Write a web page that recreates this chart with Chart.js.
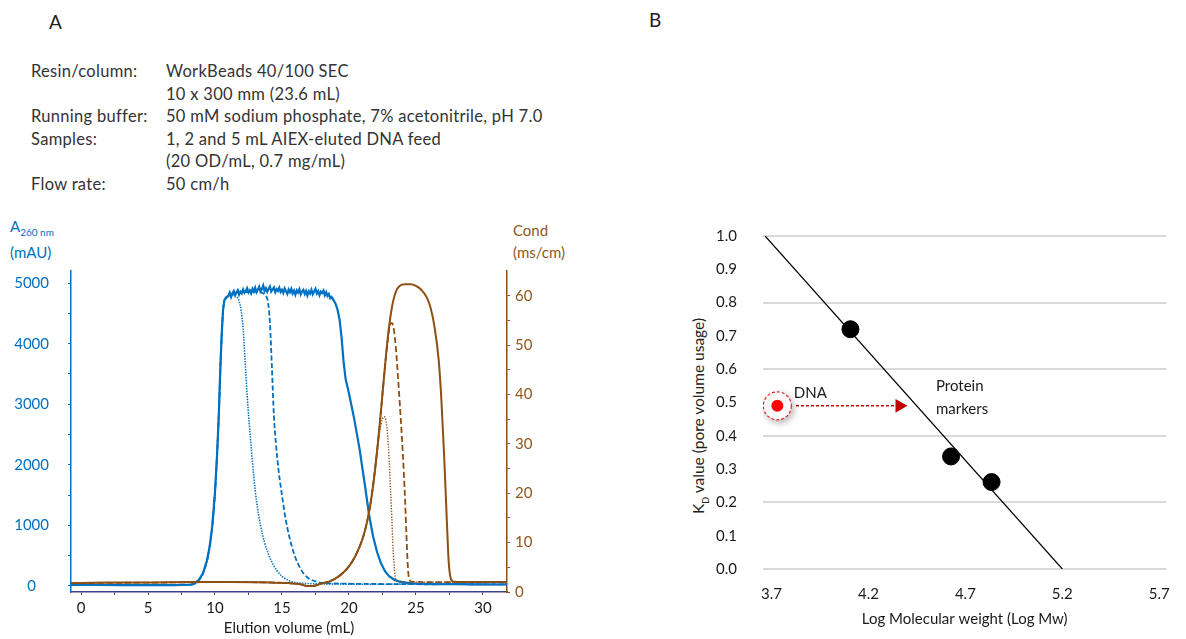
<!DOCTYPE html>
<html>
<head>
<meta charset="utf-8">
<script src="https://cdn.jsdelivr.net/npm/chart.js@4.4.1/dist/chart.umd.min.js"></script>
<style>
  body { margin: 0; background: #fff; font-family: Lato, sans-serif; color: #333; }
  #page { position: relative; width: 1186px; height: 639px; overflow: hidden; }
  .t { position: absolute; white-space: nowrap; }
  .panel { font-size: 19px; color: #222; }
  .info { left: 31px; top: 60px; font-size: 16.5px; letter-spacing: 0.3px; line-height: 22.6px; }
  .info span { display: inline-block; width: 135px; }
  .info div { height: 22.6px; }
  .blue { color: #0070C0; font-size: 15px; }
  .brown { color: #94561C; font-size: 15px; }
  canvas { position: absolute; }
</style>
</head>
<body>
<div id="page">
  <div class="t panel" style="left:49px;top:10px">A</div>
  <div class="t panel" style="left:649px;top:8px">B</div>

  <div class="t info">
    <div><span>Resin/column:</span>WorkBeads 40/100 SEC</div>
    <div><span></span>10 x 300 mm (23.6 mL)</div>
    <div><span>Running buffer:</span>50 mM sodium phosphate, 7% acetonitrile, pH 7.0</div>
    <div><span>Samples:</span>1, 2 and 5 mL AIEX-eluted DNA feed</div>
    <div><span></span>(20 OD/mL, 0.7 mg/mL)</div>
    <div><span>Flow rate:</span>50 cm/h</div>
  </div>

  <div class="t blue" style="left:10px;top:217px">A<sub style="font-size:10px">260 nm</sub></div>
  <div class="t blue" style="left:10px;top:243px">(mAU)</div>
  <div class="t brown" style="left:513px;top:221px">Cond</div>
  <div class="t brown" style="left:513px;top:243px">(ms/cm)</div>

  <div class="t" style="left:700px;top:416px;font-size:15.5px;color:#222;transform:translate(-50%,-50%) rotate(-90deg)">K<sub style="font-size:9px">D</sub> value (pore volume usage)</div>

  <canvas id="cA" width="600" height="439" style="left:0;top:200px"></canvas>
  <canvas id="cB" width="546" height="429" style="left:640px;top:210px"></canvas>
</div>

<script>
'use strict';
// ---------- panel A: SEC chromatogram ----------
const volTicks = [0, 2.5, 5, 7.5, 10, 12.5, 15, 17.5, 20, 22.5, 25, 27.5, 30];
const absTicks = [0, 500, 1000, 1500, 2000, 2500, 3000, 3500, 4000, 4500, 5000];
const condTicks = [0, 5, 10, 15, 20, 25, 30, 35, 40, 45, 50, 55, 60];

// A260, 5 mL sample (solid)
const abs5Vol = [-0.75, 1, 3, 5, 7, 8.2, 8.5, 8.8, 9.1, 9.4, 9.6, 9.8, 10.0, 10.15, 10.28, 10.4, 10.5, 10.6, 10.7, 10.85,
  11.0, 11.1, 11.2, 11.3, 11.4, 11.5, 11.6, 11.7, 11.8, 11.9, 12.0, 12.1, 12.2, 12.3, 12.4, 12.5, 12.6, 12.7, 12.8, 12.9,
  13.0, 13.1, 13.2, 13.3, 13.4, 13.5, 13.6, 13.7, 13.8, 13.9, 14.0, 14.1, 14.2, 14.3, 14.4, 14.5, 14.6, 14.7, 14.8, 14.9,
  15.0, 15.1, 15.2, 15.3, 15.4, 15.5, 15.6, 15.7, 15.8, 15.9, 16.0, 16.1, 16.2, 16.3, 16.4, 16.5, 16.6, 16.7, 16.8, 16.9,
  17.0, 17.1, 17.2, 17.3, 17.4, 17.5, 17.6, 17.7, 17.8, 17.9, 18.0, 18.1, 18.2, 18.3, 18.4, 18.5, 18.6, 18.7,
  18.85, 19.0, 19.15, 19.3, 19.45, 19.6, 19.75, 20.0, 20.4, 20.8, 21.2, 21.5, 21.8, 22.1, 22.4, 22.7, 23.0, 23.4, 23.8,
  24.3, 25, 26, 27, 28, 29, 30, 31, 31.8];
const abs5 = [16, 18, 15, 14, 15, 22, 45, 100, 210, 420, 650, 1000, 1550, 2150, 2800, 3600, 4150, 4550, 4720, 4770,
  4790, 4845, 4770, 4830, 4870, 4800, 4850, 4885, 4810, 4860,
  4830, 4895, 4840, 4870, 4915, 4845, 4880, 4830, 4905, 4860,
  4925, 4850, 4890, 4940, 4865, 4900, 4960, 4870, 4915, 4855,
  4905, 4945, 4860, 4895, 4930, 4850, 4900, 4870, 4925, 4855,
  4890, 4840, 4910, 4865, 4820, 4895, 4850, 4905, 4830, 4875,
  4810, 4880, 4845, 4900, 4815, 4860, 4890, 4820, 4870, 4795,
  4865, 4830, 4890, 4815, 4860, 4905, 4830, 4870, 4800, 4860,
  4835, 4875, 4800, 4850, 4790, 4820, 4750, 4770,
  4720, 4660, 4560, 4400, 4100, 3700, 3420, 3180, 2750, 2250, 1650, 1180, 820, 560, 370, 240, 160, 100, 70,
  50, 38, 32, 28, 30, 26, 28, 24, 26];

// A260, 2 mL sample (dashed)
const abs2Vol = [-0.75, 3, 7, 8.2, 8.5, 8.8, 9.1, 9.4, 9.6, 9.8, 10.0, 10.15, 10.28, 10.4, 10.5, 10.6, 10.7, 10.85,
  11.0, 11.5, 12.0, 12.5, 13.0, 13.5, 13.8, 13.95, 14.1, 14.25, 14.4, 14.55, 14.75, 15.0, 15.2, 15.4, 15.7, 16.0,
  16.3, 16.6, 16.9, 17.2, 17.6, 18.0, 19, 20.5, 22, 24, 26, 28, 30, 31.8];
const abs2 = [14, 15, 14, 20, 42, 95, 205, 410, 640, 990, 1540, 2140, 2790, 3590, 4140, 4540, 4710, 4760,
  4790, 4830, 4850, 4850, 4860, 4840, 4790, 4700, 4350, 3600, 2800, 2350, 1900, 1500, 1200, 960, 680, 470,
  320, 210, 140, 100, 70, 50, 40, 35, 32, 30, 28, 30, 26, 27];

// A260, 1 mL sample (dotted)
const abs1Vol = [-0.75, 3, 7, 8.2, 8.5, 8.8, 9.1, 9.4, 9.6, 9.8, 10.0, 10.15, 10.28, 10.4, 10.5, 10.6, 10.7, 10.85,
  11.0, 11.3, 11.6, 11.8, 11.95, 12.1, 12.25, 12.4, 12.55, 12.7, 12.9, 13.1, 13.4, 13.7, 14.0, 14.3, 14.6, 15.0,
  15.5, 16.0, 17, 18, 20, 22, 24, 26, 28, 30, 31.8];
const abs1 = [14, 15, 14, 20, 42, 95, 205, 410, 640, 990, 1540, 2140, 2790, 3590, 4140, 4540, 4700, 4750,
  4780, 4800, 4780, 4700, 4550, 4250, 3700, 3150, 2700, 2300, 1800, 1400, 1000, 720, 520, 370, 260, 160,
  90, 55, 40, 35, 30, 28, 30, 26, 28, 25, 26];

// conductivity, 5 mL sample (solid)
const cond5Vol = [-0.75, 2, 5, 8, 11, 14, 15.5, 16.3, 16.9, 17.3, 17.7, 18.1, 18.6, 19.1, 19.6, 20.0, 20.4, 20.8,
  21.1, 21.4, 21.7, 22.0, 22.3, 22.6, 22.9, 23.2, 23.5, 23.8, 24.2, 24.6, 25.0, 25.4, 25.8, 26.1, 26.4, 26.7, 26.9,
  27.1, 27.3, 27.45, 27.6, 27.8, 28.5, 30, 31.8];
const cond5 = [1.8, 1.9, 1.9, 2.0, 2.0, 1.9, 1.8, 1.6, 1.2, 1.2, 1.5, 1.8, 2.2, 2.9, 4.0, 5.2, 6.9, 9.2,
  11.5, 14.8, 19.5, 26, 34, 43, 51.5, 57.5, 60.8, 62, 62.3, 62.3, 62.0, 61.2, 59.7, 57.5, 53.5, 47, 39,
  28, 15, 6, 2.8, 2.1, 2.0, 2.0, 2.0];

// conductivity, 2 mL sample (dashed)
const cond2Vol = [-0.75, 5, 11, 15.5, 16.3, 16.9, 17.3, 17.7, 18.1, 18.6, 19.1, 19.6, 20.0, 20.4, 20.8,
  21.1, 21.4, 21.7, 22.0, 22.3, 22.6, 22.9, 23.05, 23.2, 23.35, 23.5, 23.65, 23.8, 23.95, 24.1, 24.2, 24.3, 24.4,
  24.5, 24.7, 26, 28, 31.8];
const cond2 = [1.8, 1.9, 2.0, 1.8, 1.6, 1.2, 1.2, 1.5, 1.8, 2.2, 2.9, 4.0, 5.2, 6.9, 9.2,
  11.5, 14.8, 19.5, 26, 34, 43, 51, 54, 54.5, 53.2, 49.5, 44, 38, 31.5, 24, 18, 11, 5,
  2.6, 2.1, 2.0, 2.0, 2.0];

// conductivity, 1 mL sample (dotted)
const cond1Vol = [-0.75, 5, 11, 15.5, 16.3, 16.9, 17.3, 17.7, 18.1, 18.6, 19.1, 19.6, 20.0, 20.4, 20.8,
  21.1, 21.4, 21.7, 21.9, 22.1, 22.3, 22.5, 22.65, 22.8, 22.95, 23.1, 23.2, 23.3, 23.4, 23.5, 24, 26, 28, 31.8];
const cond1 = [1.8, 1.9, 2.0, 1.8, 1.6, 1.2, 1.2, 1.5, 1.8, 2.2, 2.9, 4.0, 5.2, 6.9, 9.2,
  11.5, 14.8, 19.5, 24, 28.5, 32.5, 35, 35.5, 34, 29.5, 21, 15, 8.5, 4.5, 2.4, 2.0, 2.0, 2.0, 2.0];

// ---------- panel B: KD vs log Mw ----------
const molTicks = [3.7, 4.2, 4.7, 5.2, 5.7];
const kdTicks = [0, 0.1, 0.2, 0.3, 0.4, 0.5, 0.6, 0.7, 0.8, 0.9, 1.0];
const kdGrid = [0, 0.2, 0.4, 0.6, 0.8, 1.0];
const markerLogMw = [4.107, 4.626, 4.835];
const markerKd = [0.72, 0.338, 0.261];
const fitLogMw = [3.667, 5.2];
const fitKd = [1.0, 0];
const dnaLogMw = [3.73];
const dnaKd = [0.49];
const arrowLogMw = [3.826, 4.36];
const arrowKd = [0.49, 0.49];
const noteText = ['DNA', 'Protein', 'markers'];
const noteLogMw = [3.815, 4.548, 4.548];
const noteKd = [0.527, 0.548, 0.48];

const BLUE = '#0070C0', BROWN = '#8E4F14', BROWN_TXT = '#94561C', NAVY = '#3E3E8E';
Chart.defaults.font.family = 'Lato';
Chart.defaults.font.size = 15;

const pts = (xs, ys) => xs.map((x, i) => ({x, y: ys[i]}));
const setTicks = arr => s => { s.ticks = arr.map(v => ({value: v})); };

function curve(xs, ys, color, axis, dash, width, order, smooth) {
  return {
    data: pts(xs, ys), yAxisID: axis, borderColor: color, borderWidth: width,
    borderDash: dash, pointRadius: 0, order,
    cubicInterpolationMode: smooth ? 'monotone' : 'default', tension: 0
  };
}

new Chart(document.getElementById('cA'), {
  type: 'line',
  data: {
    datasets: [
      curve(cond5Vol, cond5, BROWN, 'yc', [], 2, 1, true),
      curve(cond2Vol, cond2, BROWN, 'yc', [6, 3], 1.8, 2, true),
      curve(cond1Vol, cond1, BROWN, 'yc', [1.3, 1.5], 1.4, 3, true),
      curve(abs5Vol, abs5, BLUE, 'ya', [], 2.2, 4, false),
      curve(abs2Vol, abs2, BLUE, 'ya', [5, 2.5], 1.8, 5, true),
      curve(abs1Vol, abs1, BLUE, 'ya', [1.4, 1.3], 1.6, 6, true)
    ]
  },
  options: {
    responsive: false, animation: false, events: [],
    layout: {padding: {top: 71, left: 0, right: 0, bottom: 0}},
    plugins: {legend: {display: false}, tooltip: {enabled: false}},
    scales: {
      x: {
        type: 'linear', min: -0.75, max: 31.8,
        afterBuildTicks: setTicks(volTicks),
        afterFit: s => { s.height = 47; },
        ticks: {color: '#1a1a1a', padding: 4, maxRotation: 0, callback: v => v % 5 === 0 ? v : ''},
        grid: {drawOnChartArea: false, color: NAVY, tickLength: 3},
        border: {color: NAVY, width: 1.5},
        title: {display: true, text: 'Elution volume (mL)', color: '#1a1a1a', font: {size: 15}, padding: {top: 0, bottom: 2}}
      },
      ya: {
        position: 'left', min: -100, max: 5200,
        afterBuildTicks: setTicks(absTicks),
        afterFit: s => { s.width = 71; },
        ticks: {color: BLUE, padding: 19, crossAlign: 'center', callback: v => v % 1000 === 0 ? v : ''},
        grid: {drawOnChartArea: false, color: BLUE, tickLength: 3},
        border: {color: BLUE, width: 1.5}
      },
      yc: {
        position: 'right', min: 0, max: 65,
        afterBuildTicks: setTicks(condTicks),
        afterFit: s => { s.width = 93; },
        ticks: {color: BROWN_TXT, padding: 5, callback: v => v % 10 === 0 ? v : ''},
        grid: {drawOnChartArea: false, color: BROWN, tickLength: 3},
        border: {color: BROWN, width: 1.5}
      }
    }
  }
});

// dashed ring with a soft shadow around the DNA point
const ringStyle = {
  id: 'ringStyle',
  beforeDatasetDraw(chart, args) {
    if (!chart.data.datasets[args.index].ring) return;
    const c = chart.ctx;
    c.save();
    c.setLineDash([3, 2]);
    c.shadowColor = 'rgba(0,0,0,0.28)';
    c.shadowBlur = 7;
    c.shadowOffsetX = 2;
    c.shadowOffsetY = 3;
  },
  afterDatasetDraw(chart, args) {
    if (chart.data.datasets[args.index].ring) chart.ctx.restore();
  }
};

const notes = {
  id: 'notes',
  afterDatasetsDraw(chart) {
    const c = chart.ctx, sx = chart.scales.x, sy = chart.scales.y;
    c.save();
    c.font = '15px Lato';
    c.fillStyle = '#1a1a1a';
    c.textAlign = 'left';
    c.textBaseline = 'middle';
    noteText.forEach((t, i) => c.fillText(t, sx.getPixelForValue(noteLogMw[i]), sy.getPixelForValue(noteKd[i])));
    c.restore();
  }
};

new Chart(document.getElementById('cB'), {
  type: 'scatter',
  data: {
    datasets: [
      {data: pts(fitLogMw, fitKd), showLine: true, borderColor: '#000', borderWidth: 1.2, pointRadius: 0, order: 5},
      {data: pts(markerLogMw, markerKd), pointRadius: 8.5, backgroundColor: '#000', borderColor: '#000', order: 4},
      {data: pts(dnaLogMw, dnaKd), ring: true, pointRadius: 14, backgroundColor: '#fff', borderColor: '#E0282A', borderWidth: 1.2, order: 3},
      {data: pts(dnaLogMw, dnaKd), pointRadius: 6, backgroundColor: '#FF0000', borderWidth: 0, order: 2},
      {data: pts(arrowLogMw, arrowKd), showLine: true, borderColor: '#C00000', borderWidth: 1.5, borderDash: [3, 2],
        pointRadius: [0, 8], pointStyle: 'triangle', pointRotation: 90,
        pointBackgroundColor: '#C00000', pointBorderColor: '#C00000', pointBorderWidth: 0, order: 1}
    ]
  },
  options: {
    responsive: false, animation: false, events: [],
    layout: {padding: {top: 26, left: 76, right: 7, bottom: 0}},
    plugins: {legend: {display: false}, tooltip: {enabled: false}},
    scales: {
      x: {
        type: 'linear', min: 3.656, max: 5.737,
        afterBuildTicks: setTicks(molTicks),
        afterFit: s => { s.height = 70; },
        ticks: {color: '#1a1a1a', padding: 16, maxRotation: 0, callback: v => v.toFixed(1)},
        grid: {display: false, drawTicks: false},
        border: {display: false},
        title: {display: true, text: 'Log Molecular weight (Log Mw)', color: '#1a1a1a', font: {size: 15}, padding: {top: 0, bottom: 11}}
      },
      y: {
        min: 0, max: 1.0,
        afterBuildTicks: setTicks(kdTicks),
        afterFit: s => { s.width = 47; },
        ticks: {color: '#1a1a1a', padding: 0, crossAlign: 'far', callback: v => v.toFixed(1)},
        grid: {display: false, drawTicks: false},
        border: {display: false}
      },
      yg: {
        position: 'left', min: 0, max: 1.0,
        afterBuildTicks: setTicks(kdGrid),
        afterFit: s => { s.width = 0; },
        ticks: {display: false, padding: 0},
        grid: {color: '#D9D9D9', lineWidth: 2, drawTicks: false},
        border: {display: false}
      }
    }
  },
  plugins: [ringStyle, notes]
});
</script>
</body>
</html>
